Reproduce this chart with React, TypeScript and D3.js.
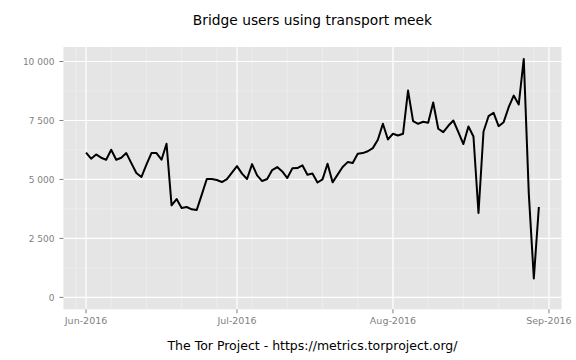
import React from "react";
import * as d3 from "d3";

const startDate = "2016-06-01";
const users: number[] = [
  6134, 5880, 6061, 5922, 5837, 6260, 5837, 5922, 6117, 5694,
  5271, 5101, 5626, 6117, 6117, 5837, 6514, 3904, 4170, 3790,
  3833, 3735, 3706, 4357, 5017, 5017, 4975, 4890, 5017, 5288,
  5567, 5245, 5017, 5651, 5173, 4932, 5017, 5400, 5525, 5340,
  5060, 5470, 5482, 5600, 5200, 5250, 4870, 5004, 5668, 4877,
  5203, 5525, 5736, 5694, 6091, 6117, 6195, 6328, 6683, 7360,
  6696, 6937, 6865, 6937, 8769, 7470, 7360, 7445, 7402, 8261,
  7149, 7005, 7275, 7500, 7005, 6500, 7246, 6823, 3579, 7035,
  7682, 7826, 7259, 7428, 8063, 8557, 8177, 10110, 4400, 803,
  3833,
];
const yTicks = [0, 2500, 5000, 7500, 10000];
const yMinor = [1250, 3750, 6250, 8750];
const xTickDates = ["2016-06-01", "2016-07-01", "2016-08-01", "2016-09-01"];
const title = "Bridge users using transport meek";
const caption = "The Tor Project - https://metrics.torproject.org/";

const W = 576, H = 360;
const panel = { left: 63.4, right: 561.5, top: 47, bottom: 309.3 };
const FONT = "'DejaVu Sans', sans-serif";

export default function App() {
  const t0 = new Date(startDate + "T00:00:00Z");
  const data = users.map((v, i) => ({ date: d3.utcDay.offset(t0, i), v }));
  const dMin = data[0].date.getTime();
  const dMax = data[data.length - 1].date.getTime();
  const dPad = (dMax - dMin) * 0.05;
  const x = d3.scaleUtc()
    .domain([new Date(dMin - dPad), new Date(dMax + dPad)])
    .range([panel.left, panel.right]);
  const vMax = d3.max(users) as number;
  const vPad = vMax * 0.05;
  const y = d3.scaleLinear().domain([-vPad, vMax + vPad]).range([panel.bottom, panel.top]);

  const minorX = d3.utcMonday.range(x.domain()[0], x.domain()[1]);
  const majorX = xTickDates.map((s) => new Date(s + "T00:00:00Z"));
  const fmtY = d3.formatLocale({ decimal: ".", thousands: " ", grouping: [3], currency: ["", ""] }).format(",");
  const fmtX = d3.utcFormat("%b-%Y");

  const line = d3.line<{ date: Date; v: number }>()
    .x((d) => x(d.date))
    .y((d) => y(d.v));

  return (
    <svg width={W} height={H} style={{ display: "block", position: "absolute", left: 0, top: 0, background: "#fff" }}>
      <rect x={panel.left} y={panel.top} width={panel.right - panel.left} height={panel.bottom - panel.top} fill="#E5E5E5" />
      {yMinor.map((v) => (
        <line key={"ym" + v} x1={panel.left} x2={panel.right} y1={y(v)} y2={y(v)} stroke="#F2F2F2" strokeWidth={0.6} />
      ))}
      {minorX.map((d) => (
        <line key={"xm" + d.getTime()} x1={x(d)} x2={x(d)} y1={panel.top} y2={panel.bottom} stroke="#F2F2F2" strokeWidth={0.6} />
      ))}
      {yTicks.map((v) => (
        <line key={"yM" + v} x1={panel.left} x2={panel.right} y1={y(v)} y2={y(v)} stroke="#FFFFFF" strokeWidth={1.2} />
      ))}
      {majorX.map((d) => (
        <line key={"xM" + d.getTime()} x1={x(d)} x2={x(d)} y1={panel.top} y2={panel.bottom} stroke="#FFFFFF" strokeWidth={1.2} />
      ))}
      <path d={line(data) ?? ""} fill="none" stroke="#000" strokeWidth={2} strokeLinejoin="round" />
      {yTicks.map((v) => (
        <g key={"yt" + v}>
          <line x1={panel.left - 4} x2={panel.left} y1={y(v)} y2={y(v)} stroke="#7F7F7F" strokeWidth={1} />
          <text x={panel.left - 9} y={y(v)} dy="0.35em" textAnchor="end" fontFamily={FONT} fontSize={9} fill="#7F7F7F">
            {fmtY(v)}
          </text>
        </g>
      ))}
      {majorX.map((d) => (
        <g key={"xt" + d.getTime()}>
          <line x1={x(d)} x2={x(d)} y1={panel.bottom} y2={panel.bottom + 4} stroke="#7F7F7F" strokeWidth={1} />
          <text x={x(d)} y={panel.bottom + 15} textAnchor="middle" fontFamily={FONT} fontSize={9.5} fill="#7F7F7F">
            {fmtX(d)}
          </text>
        </g>
      ))}
      <text x={(panel.left + panel.right) / 2} y={25} textAnchor="middle" fontFamily={FONT} fontSize={13.8} fill="#000">
        {title}
      </text>
      <text x={(panel.left + panel.right) / 2} y={350} textAnchor="middle" fontFamily={FONT} fontSize={12.5} fill="#000">
        {caption}
      </text>
    </svg>
  );
}
